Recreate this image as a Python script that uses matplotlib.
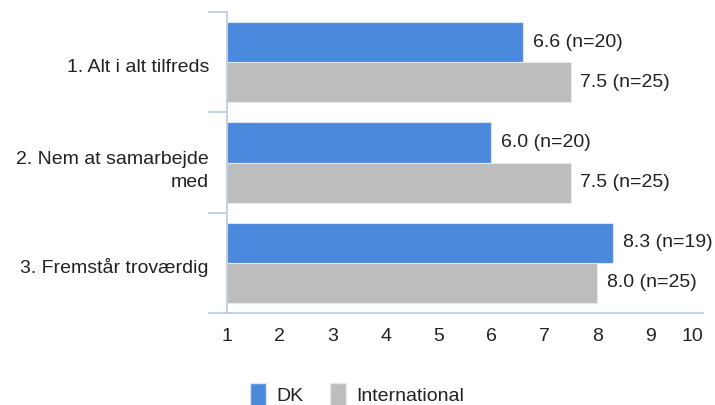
import matplotlib
matplotlib.use("Agg")
import matplotlib.pyplot as plt
from matplotlib.patches import Patch
from matplotlib.transforms import ScaledTranslation
import numpy as np

plt.rcParams['font.family'] = ['Liberation Sans', 'DejaVu Sans']

categories = ["1. Alt i alt tilfreds", "2. Nem at samarbejde\nmed", "3. Fremstår troværdig"]
dk_values = [6.6, 6.0, 8.3]
dk_n = [20, 20, 19]
int_values = [7.5, 7.5, 8.0]
int_n = [25, 25, 25]
x_ticks = [1, 2, 3, 4, 5, 6, 7, 8, 9, 10]
series_names = ["DK", "International"]

blue = "#4A89DC"
gray = "#BDBDBD"
axis_col = "#B9CBE0"
text_col = "#222222"
fs = 14

fig = plt.figure(figsize=(7.15, 4.05), dpi=100)
ax = fig.add_axes([227/715, (405-313)/405, (703-227)/715, (313-12)/405])

y = np.arange(len(categories))
h = 0.4
base = 1
ax.barh(y - h/2, np.array(dk_values) - base, left=base, height=h, color=blue,
        edgecolor="#DCE6F2", linewidth=0.8)
ax.barh(y + h/2, np.array(int_values) - base, left=base, height=h, color=gray,
        edgecolor="#E8E8E8", linewidth=0.8)

for yi, v, n in zip(y, dk_values, dk_n):
    ax.annotate(f"{v:.1f} (n={n})", (v, yi - h/2), xytext=(7, 0), textcoords="offset points",
                ha="left", va="center", fontsize=fs, color=text_col)
for yi, v, n in zip(y, int_values, int_n):
    ax.annotate(f"{v:.1f} (n={n})", (v, yi + h/2), xytext=(7, 0), textcoords="offset points",
                ha="left", va="center", fontsize=fs, color=text_col)

ax.set_xlim(1, 10)
ax.set_ylim(len(categories) - 0.5, -0.5)
ax.set_xticks(x_ticks)
ax.set_xticklabels([str(t) for t in x_ticks], fontsize=fs, color=text_col)
ax.tick_params(axis="x", length=0, pad=11)
lbls = ax.get_xticklabels()
lbls[-1].set_horizontalalignment("right")

ax.set_yticks(y)
ax.set_yticklabels(categories, fontsize=fs, color=text_col, linespacing=1.5)
ax.tick_params(axis="y", which="major", length=0, pad=13)
shift = ScaledTranslation(0, -3/100, fig.dpi_scale_trans)
for t in ax.get_yticklabels():
    t.set_transform(t.get_transform() + shift)
ax.set_yticks(np.arange(-0.5, len(categories), 1.0), minor=True)
ax.tick_params(axis="y", which="minor", length=14, color=axis_col, width=1.2)

for s in ["top", "right"]:
    ax.spines[s].set_visible(False)
for s in ["left", "bottom"]:
    ax.spines[s].set_color(axis_col)
    ax.spines[s].set_linewidth(1.2)

handles = [Patch(facecolor=blue, edgecolor="#DCE6F2"), Patch(facecolor=gray, edgecolor="#E8E8E8")]
fig.legend(handles, series_names, loc="center left", bbox_to_anchor=(234/715, 1 - 395/405),
           ncol=2, frameon=False, fontsize=fs, handlelength=0.82, handleheight=1.6,
           handletextpad=0.55, columnspacing=1.35, labelcolor=text_col, borderpad=0.3)

fig.savefig("out.png", dpi=100)
